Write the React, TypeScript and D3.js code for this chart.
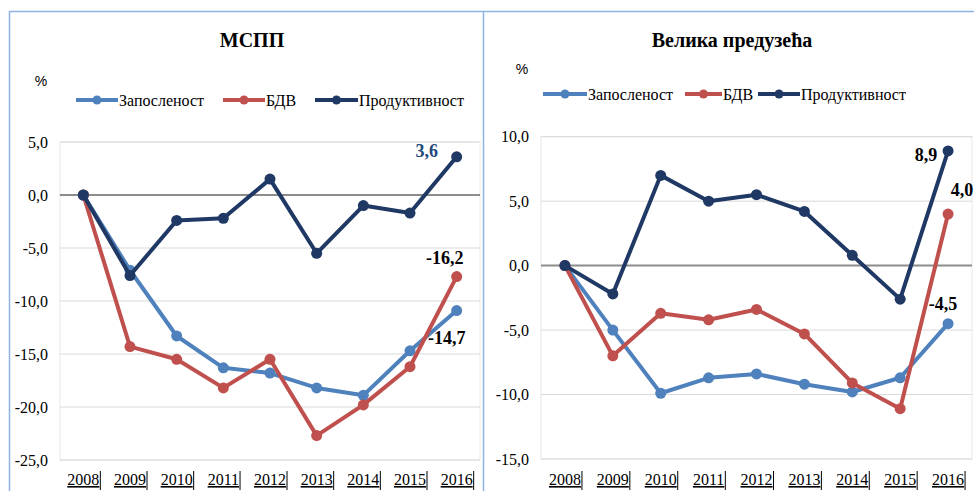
import { useEffect, useRef } from 'react';
import * as d3 from 'd3';

// Colors
const COLOR_EMP = "#4F81BD";     // Запосленост
const COLOR_GVA = "#C0504D";     // БДВ
const COLOR_PROD = "#1F3864";    // Продуктивност
const COLOR_FRAME = "#8DB4E2";
const COLOR_GRID = "#D9D9D9";
const FONT = "'Liberation Serif', 'Times New Roman', serif";

const YEARS = ["2008", "2009", "2010", "2011", "2012", "2013", "2014", "2015", "2016"];
const SERIES_NAMES = ["Запосленост", "БДВ", "Продуктивност"];

// МСПП
const SME_EMP = [0, -7.1, -13.3, -16.3, -16.8, -18.2, -18.9, -14.7, -10.9];
const SME_GVA = [0, -14.3, -15.5, -18.2, -15.5, -22.7, -19.8, -16.2, -7.7];
const SME_PROD = [0, -7.6, -2.4, -2.2, 1.5, -5.5, -1.0, -1.7, 3.6];
const SME_TICKS = [5, 0, -5, -10, -15, -20, -25];
const SME_LABELS = [
  { series: 2, year: "2016", text: "3,6" },
  { series: 1, year: "2016", text: "-16,2" },
  { series: 0, year: "2016", text: "-14,7" },
];

// Велика предузећа
const LARGE_EMP = [0, -5.0, -9.9, -8.7, -8.4, -9.2, -9.8, -8.7, -4.5];
const LARGE_GVA = [0, -7.0, -3.7, -4.2, -3.4, -5.3, -9.1, -11.1, 4.0];
const LARGE_PROD = [0, -2.2, 7.0, 5.0, 5.5, 4.2, 0.8, -2.6, 8.9];
const LARGE_TICKS = [10, 5, 0, -5, -10, -15];
const LARGE_LABELS = [
  { series: 2, year: "2016", text: "8,9" },
  { series: 1, year: "2016", text: "4,0" },
  { series: 0, year: "2016", text: "-4,5" },
];

const COLORS = [COLOR_EMP, COLOR_GVA, COLOR_PROD];

const panels = [
  {
    title: "МСПП",
    series: [SME_EMP, SME_GVA, SME_PROD],
    ticks: SME_TICKS,
    labels: SME_LABELS,
    x0: 60, x1: 480, y0: 460, y1: 142,
    titleX: 252, pctX: 41, pctY: 86,
    legendY: 100, legendX: [76, 223, 315], legendLen: [42, 42, 43],
    labelOffsets: [[-30, -6], [-12, -19], [-10, 27]],
    labelColors: ["#1F497D", "#000", "#000"],
  },
  {
    title: "Велика предузећа",
    series: [LARGE_EMP, LARGE_GVA, LARGE_PROD],
    ticks: LARGE_TICKS,
    labels: LARGE_LABELS,
    x0: 541, x1: 972, y0: 459, y1: 136.7,
    titleX: 732, pctX: 522, pctY: 74,
    legendY: 94, legendX: [543, 685, 758], legendLen: [44, 37, 42],
    labelOffsets: [[-22, 4], [14, -24], [-5, -20]],
    labelColors: ["#000", "#000", "#000"],
  },
];

export default function App() {
  const ref = useRef<SVGSVGElement>(null);

  useEffect(() => {
    const svg = d3.select(ref.current);
    svg.selectAll("*").remove();

    svg.append("rect").attr("width", 974).attr("height", 491).attr("fill", "#fff");

    // frames
    svg.append("line").attr("x1", 9).attr("x2", 974).attr("y1", 11.5).attr("y2", 11.5)
      .attr("stroke", COLOR_FRAME).attr("stroke-width", 1.5);
    svg.append("line").attr("x1", 9.5).attr("x2", 9.5).attr("y1", 11.5).attr("y2", 491)
      .attr("stroke", COLOR_FRAME).attr("stroke-width", 1.5);
    svg.append("line").attr("x1", 483.5).attr("x2", 483.5).attr("y1", 11.5).attr("y2", 491)
      .attr("stroke", COLOR_FRAME).attr("stroke-width", 1.5);

    panels.forEach((p) => {
      const g = svg.append("g").attr("font-family", FONT);
      const x = d3.scaleBand().domain(YEARS).range([p.x0, p.x1]).padding(0);
      const yMin = d3.min(p.ticks) as number;
      const yMax = d3.max(p.ticks) as number;
      const y = d3.scaleLinear().domain([yMin, yMax]).range([p.y0, p.y1]);
      const cx = (yr: string) => (x(yr) as number) + x.bandwidth() / 2;

      // plot area border
      g.append("rect")
        .attr("x", p.x0).attr("y", p.y1)
        .attr("width", p.x1 - p.x0).attr("height", p.y0 - p.y1)
        .attr("fill", "none").attr("stroke", "#F0F0F0").attr("stroke-width", 1.5);

      // grid
      g.append("g").selectAll("line")
        .data(p.ticks.filter((t) => t !== 0))
        .join("line")
        .attr("x1", p.x0).attr("x2", p.x1)
        .attr("y1", (d) => y(d)).attr("y2", (d) => y(d))
        .attr("stroke", COLOR_GRID).attr("stroke-width", 1);

      g.append("line")
        .attr("x1", p.x0).attr("x2", p.x1)
        .attr("y1", y(0)).attr("y2", y(0))
        .attr("stroke", "#8C8C8C").attr("stroke-width", 2);

      // y tick labels
      g.append("g").selectAll("text")
        .data(p.ticks)
        .join("text")
        .attr("x", p.x0 - 12)
        .attr("y", (d) => y(d))
        .attr("dy", "0.35em")
        .attr("text-anchor", "end")
        .attr("font-size", 16)
        .attr("fill", "#000")
        .text((d) => d3.format(".1f")(d).replace(".", ",").replace("−", "-"));

      // x labels, underlined with a bar on the right
      const xl = g.append("g").selectAll("g").data(YEARS).join("g");
      xl.append("text")
        .attr("x", (d) => cx(d))
        .attr("y", 485)
        .attr("text-anchor", "middle")
        .attr("font-size", 16)
        .attr("fill", "#000")
        .attr("text-decoration", "underline")
        .text((d) => d);
      xl.each(function (this: any, d) {
        const t = d3.select(this).select("text").node() as SVGTextElement;
        const w = t.getComputedTextLength();
        d3.select(this).append("line")
          .attr("x1", cx(d) + w / 2 + 1).attr("x2", cx(d) + w / 2 + 1)
          .attr("y1", 471).attr("y2", 490)
          .attr("stroke", "#000").attr("stroke-width", 1);
      });

      // title
      g.append("text")
        .attr("x", p.titleX).attr("y", 47)
        .attr("text-anchor", "middle")
        .attr("font-size", 20).attr("font-weight", "bold")
        .text(p.title);

      g.append("text")
        .attr("x", p.pctX).attr("y", p.pctY)
        .attr("text-anchor", "middle")
        .attr("font-size", 14)
        .attr("font-family", "'Liberation Sans', Arial, sans-serif")
        .text("%");

      // legend
      SERIES_NAMES.forEach((name, i) => {
        const lx = p.legendX[i];
        const len = p.legendLen[i];
        g.append("line")
          .attr("x1", lx).attr("x2", lx + len)
          .attr("y1", p.legendY).attr("y2", p.legendY)
          .attr("stroke", COLORS[i]).attr("stroke-width", 4);
        g.append("circle")
          .attr("cx", lx + len / 2).attr("cy", p.legendY).attr("r", 4.5)
          .attr("fill", COLORS[i]);
        g.append("text")
          .attr("x", lx + len + 1).attr("y", p.legendY)
          .attr("dy", "0.35em")
          .attr("font-size", 16)
          .text(name);
      });

      // series lines
      const line = d3.line<number>()
        .x((_, i) => cx(YEARS[i]))
        .y((d) => y(d));

      p.series.forEach((vals, si) => {
        g.append("path")
          .attr("d", line(vals))
          .attr("fill", "none")
          .attr("stroke", COLORS[si])
          .attr("stroke-width", 4)
          .attr("stroke-linejoin", "round");
        g.append("g").selectAll("circle")
          .data(vals)
          .join("circle")
          .attr("cx", (_, i) => cx(YEARS[i]))
          .attr("cy", (d) => y(d))
          .attr("r", 5.5)
          .attr("fill", COLORS[si]);
      });

      // data labels
      p.labels.forEach((lb, i) => {
        const yi = YEARS.indexOf(lb.year);
        const v = p.series[lb.series][yi];
        const [dx, dy] = p.labelOffsets[i];
        g.append("text")
          .attr("x", cx(lb.year) + dx)
          .attr("y", y(v) + dy)
          .attr("dy", "0.35em")
          .attr("text-anchor", "middle")
          .attr("font-size", 18).attr("font-weight", "bold")
          .attr("fill", p.labelColors[i])
          .text(lb.text);
      });
    });
  }, []);

  return (
    <div style={{ position: 'absolute', left: 0, top: 0 }}>
      <svg ref={ref} width={974} height={491} style={{ display: 'block' }} />
    </div>
  );
}
